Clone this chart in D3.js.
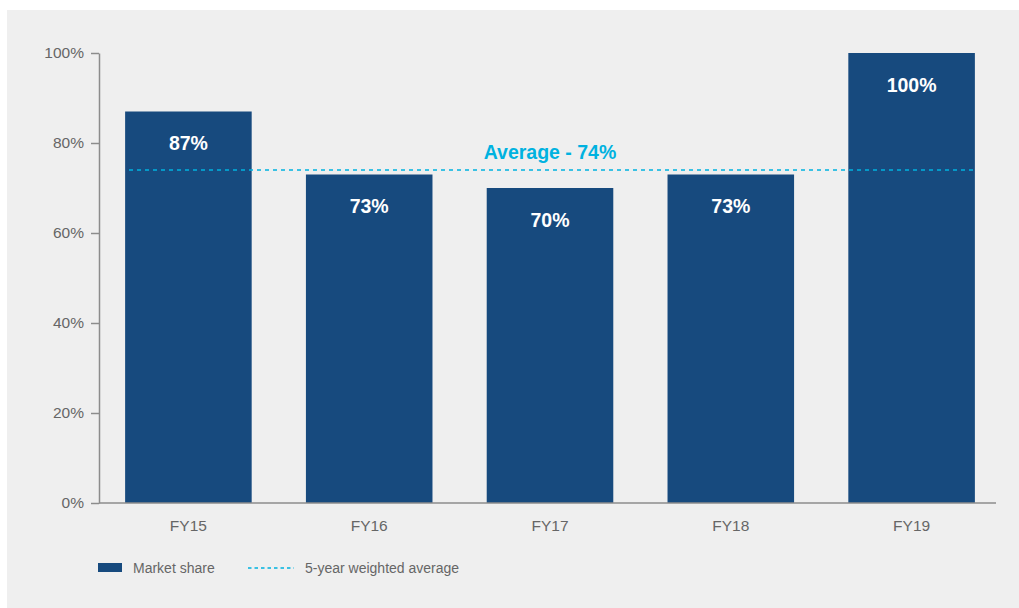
<!DOCTYPE html>
<html>
<head>
<meta charset="utf-8">
<script src="https://cdn.jsdelivr.net/npm/d3@7"></script>
<style>
  html, body { margin: 0; padding: 0; background: #ffffff; }
  svg { display: block; font-family: Arial, "Liberation Sans", Helvetica, sans-serif; }
</style>
</head>
<body>
<svg id="chart" width="1019" height="608"></svg>
<script>
// Chart data
const years = ["FY15", "FY16", "FY17", "FY18", "FY19"];
const marketShare = [87, 73, 70, 73, 100];
const weightedAverage = 74;
const yTicks = [0, 20, 40, 60, 80, 100];
const legendLabels = ["Market share", "5-year weighted average"];

const barColor = "#174a7e";
const avgColor = "#00b2e0";
const textGray = "#666666";
const axisGray = "#8c8c8c";

const svg = d3.select("#chart");

// grey panel behind the chart
svg.append("rect")
    .attr("x", 7)
    .attr("y", 10)
    .attr("width", 1012)
    .attr("height", 598)
    .attr("fill", "#efefef");

// scales
const xScale = d3.scaleBand()
    .domain(years)
    .range([98, 1002])
    .paddingInner(0.3)
    .paddingOuter(0.15);

const yScale = d3.scaleLinear()
    .domain([0, 100])
    .range([503, 53]);

// bars
svg.append("g")
    .selectAll("rect")
    .data(marketShare)
    .enter()
    .append("rect")
        .attr("x", function(d, i) { return xScale(years[i]); })
        .attr("y", function(d) { return yScale(d); })
        .attr("width", xScale.bandwidth())
        .attr("height", function(d) { return yScale(0) - yScale(d); })
        .attr("fill", barColor);

// bar value labels
svg.append("g")
    .selectAll("text")
    .data(marketShare)
    .enter()
    .append("text")
        .attr("x", function(d, i) { return xScale(years[i]) + xScale.bandwidth() / 2; })
        .attr("y", function(d) { return yScale(d) + 38.5; })
        .attr("text-anchor", "middle")
        .style("font-size", "19.5px")
        .style("font-weight", "bold")
        .attr("fill", "#ffffff")
        .text(function(d) { return d + "%"; });

// y-axis
const yAxis = svg.append("g")
    .attr("transform", `translate(99, 0)`)
    .call(d3.axisLeft(yScale)
            .tickValues(yTicks)
            .tickSize(8)
            .tickSizeOuter(0)
            .tickPadding(7)
            .tickFormat(function(d) { return d + "%"; }));
yAxis.select(".domain").attr("stroke", axisGray).attr("stroke-width", 1.5);
yAxis.selectAll(".tick line").attr("stroke", axisGray).attr("stroke-width", 1.5);
yAxis.selectAll(".tick text")
    .attr("fill", textGray)
    .style("font-size", "15.5px")
    .style("font-family", "Arial, 'Liberation Sans', sans-serif");

// x-axis baseline
svg.append("line")
    .attr("x1", 99)
    .attr("x2", 996)
    .attr("y1", yScale(0))
    .attr("y2", yScale(0))
    .attr("stroke", axisGray)
    .attr("stroke-width", 1.5);

// x labels
const xAxis = svg.append("g")
    .attr("transform", `translate(0, ${yScale(0)})`)
    .call(d3.axisBottom(xScale).tickSize(0).tickPadding(17));
xAxis.select(".domain").remove();
xAxis.selectAll(".tick text")
    .attr("fill", textGray)
    .style("font-size", "15.5px")
    .style("font-family", "Arial, 'Liberation Sans', sans-serif");

// average line
svg.append("line")
    .attr("x1", 129)
    .attr("x2", xScale(years[years.length - 1]) + xScale.bandwidth())
    .attr("y1", yScale(weightedAverage))
    .attr("y2", yScale(weightedAverage))
    .attr("stroke", avgColor)
    .attr("stroke-width", 1.5)
    .attr("stroke-dasharray", "4,4");

svg.append("text")
    .attr("x", xScale(years[2]) + xScale.bandwidth() / 2)
    .attr("y", yScale(weightedAverage) - 11)
    .attr("text-anchor", "middle")
    .style("font-size", "19.5px")
    .style("font-weight", "bold")
    .attr("fill", avgColor)
    .text("Average - " + weightedAverage + "%");

// legend
const legend = svg.append("g");
legend.append("rect")
    .attr("x", 98)
    .attr("y", 563)
    .attr("width", 24)
    .attr("height", 9)
    .attr("fill", barColor);
legend.append("text")
    .attr("x", 133)
    .attr("y", 573)
    .style("font-size", "14px")
    .attr("fill", textGray)
    .text(legendLabels[0]);
legend.append("line")
    .attr("x1", 248)
    .attr("x2", 294)
    .attr("y1", 568)
    .attr("y2", 568)
    .attr("stroke", avgColor)
    .attr("stroke-width", 1.5)
    .attr("stroke-dasharray", "3.5,3");
legend.append("text")
    .attr("x", 305)
    .attr("y", 573)
    .style("font-size", "14px")
    .attr("fill", textGray)
    .text(legendLabels[1]);
</script>
</body>
</html>
